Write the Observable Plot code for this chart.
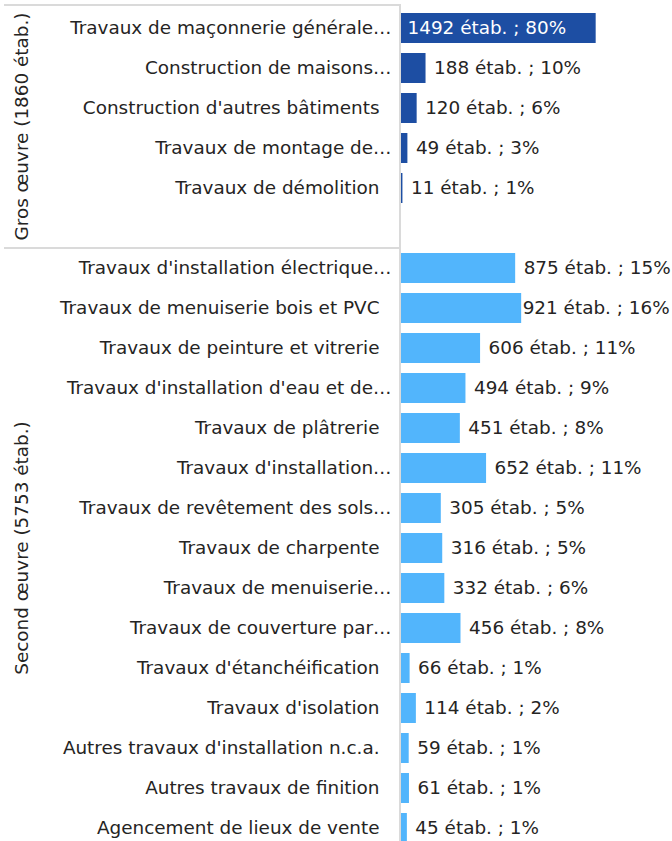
<!DOCTYPE html>
<html><head><meta charset="utf-8">
<script src="https://cdn.jsdelivr.net/npm/d3@7"></script>
<script src="https://cdn.jsdelivr.net/npm/@observablehq/plot@0.6"></script>
<style>
html,body{margin:0;padding:0;background:#fff;overflow:hidden}
</style></head><body><div id="chart"></div>
<script>
const groupNames = ["Gros œuvre (1860 étab.)", "Second œuvre (5753 étab.)"];
const grosLabels = [
  "Travaux de maçonnerie générale…",
  "Construction de maisons…",
  "Construction d'autres bâtiments",
  "Travaux de montage de…",
  "Travaux de démolition"
];
const grosValues = [1492, 188, 120, 49, 11];
const grosShares = [80, 10, 6, 3, 1];
const secondLabels = [
  "Travaux d'installation électrique…",
  "Travaux de menuiserie bois et PVC",
  "Travaux de peinture et vitrerie",
  "Travaux d'installation d'eau et de…",
  "Travaux de plâtrerie",
  "Travaux d'installation…",
  "Travaux de revêtement des sols…",
  "Travaux de charpente",
  "Travaux de menuiserie…",
  "Travaux de couverture par…",
  "Travaux d'étanchéification",
  "Travaux d'isolation",
  "Autres travaux d'installation n.c.a.",
  "Autres travaux de finition",
  "Agencement de lieux de vente"
];
const secondValues = [875, 921, 606, 494, 451, 652, 305, 316, 332, 456, 66, 114, 59, 61, 45];
const secondShares = [15, 16, 11, 9, 8, 11, 5, 5, 6, 8, 1, 2, 1, 1, 1];
const groupColors = ["#1d4ea3", "#52b5fc"];
const emptySlots = [1, 0];

const groupData = [
  {labels: grosLabels, values: grosValues, shares: grosShares},
  {labels: secondLabels, values: secondValues, shares: secondShares}
];
const rows = [];
const yDomain = [];
const groups = [];
groupData.forEach((g, gi) => {
  const ids = [];
  g.labels.forEach((lab, i) => {
    const id = `g${gi}-${i}`;
    ids.push(id); yDomain.push(id);
    rows.push({id, label: lab, value: g.values[i], share: g.shares[i],
      color: groupColors[gi], truncated: lab.endsWith("…")});
  });
  for (let k = 0; k < emptySlots[gi]; k++) { const id = `g${gi}-gap${k}`; ids.push(id); yDomain.push(id); }
  groups.push({name: groupNames[gi], ids});
});
const fmt = d => `${d.value} étab. ; ${d.share}%`;
const lineColor = "#dadada";
const FS = 18.4;
const textColor = "#252423";

function groupFrames(index, scales, values, dims) {
  const y = scales.y;
  const step = y(yDomain[1]) - y(yDomain[0]);
  const pad = step * 0.125;
  const g = d3.create("svg:g");
  const xr = dims.marginLeft - 1;
  const tops = groups.map((grp, gi) => y(grp.ids[0]) - pad - (gi === 0 ? 3 : 0));
  groups.forEach((grp, gi) => {
    const top = tops[gi];
    const bottom = gi + 1 < groups.length ? tops[gi + 1] : dims.height;
    g.append("line").attr("x1", 4).attr("x2", xr).attr("y1", top).attr("y2", top)
      .attr("stroke", lineColor).attr("stroke-width", 2);
    g.append("text")
      .attr("transform", `translate(21,${(top + bottom) / 2}) rotate(-90)`)
      .attr("text-anchor", "middle").attr("dominant-baseline", "central")
      .attr("font-size", FS).attr("fill", textColor)
      .text(grp.name);
  });
  g.append("line").attr("x1", xr).attr("x2", xr).attr("y1", tops[0] - 1).attr("y2", dims.height)
    .attr("stroke", lineColor).attr("stroke-width", 2);
  return g.node();
}

const chart = Plot.plot({
  width: 672, height: 848,
  marginLeft: 401, marginRight: 0, marginTop: 8, marginBottom: 0,
  x: {domain: [0, 2077], axis: null},
  y: {domain: yDomain, axis: null, paddingInner: 0.25, paddingOuter: 0.125},
  color: {type: "identity"},
  style: {fontFamily: "'DejaVu Sans', sans-serif", fontSize: FS + "px", color: textColor, background: "#fff"},
  marks: [
    groupFrames,
    Plot.barX(rows, {y: "id", x: "value", fill: "color"}),
    Plot.text(rows.filter(d => !d.truncated), {y: "id", text: "label", frameAnchor: "left", textAnchor: "end", dx: -22, fontSize: FS, fill: textColor}),
    Plot.text(rows.filter(d => d.truncated), {y: "id", text: "label", frameAnchor: "left", textAnchor: "end", dx: -10, fontSize: FS, fill: textColor}),
    Plot.text(rows.filter(d => d.value >= 1000), {y: "id", x: 0, text: fmt, textAnchor: "start", dx: 6, fontSize: FS, fill: "#ffffff"}),
    Plot.text(rows.filter(d => d.value >= 900 && d.value < 1000), {y: "id", x: "value", text: fmt, textAnchor: "start", dx: 1, fontSize: FS, fill: textColor}),
    Plot.text(rows.filter(d => d.value < 900), {y: "id", x: "value", text: fmt, textAnchor: "start", dx: 8, fontSize: FS, fill: textColor})
  ]
});
document.getElementById("chart").appendChild(chart);
</script></body></html>
